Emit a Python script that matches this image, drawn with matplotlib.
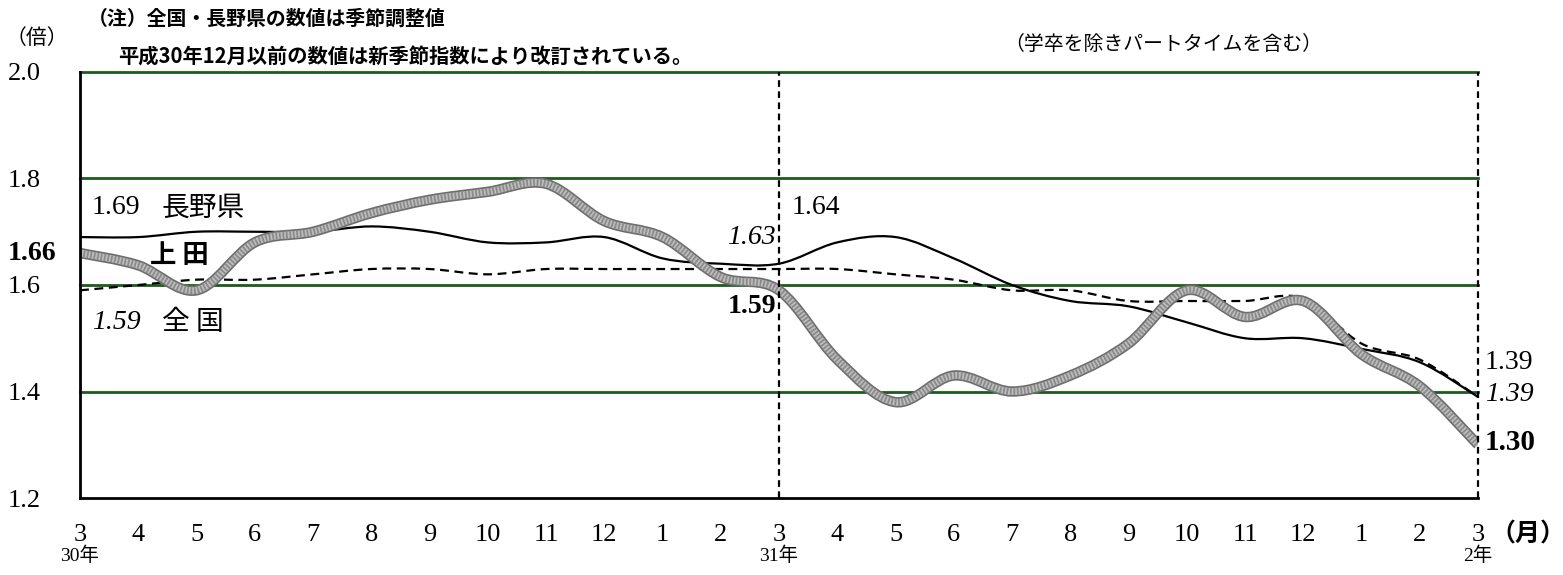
import matplotlib
matplotlib.use("Agg")
import matplotlib.pyplot as plt
import numpy as np
from matplotlib.path import Path
from matplotlib.patches import PathPatch

plt.rcParams['font.family'] = ['Liberation Serif', 'Noto Sans CJK JP']

months = ['3', '4', '5', '6', '7', '8', '9', '10', '11', '12', '1', '2',
          '3', '4', '5', '6', '7', '8', '9', '10', '11', '12', '1', '2', '3']
year_marks = {0: '30年', 12: '31年', 24: '2年'}

ueda = [1.66, 1.637, 1.59, 1.68, 1.70, 1.735, 1.76, 1.775, 1.79, 1.72, 1.69,
        1.615, 1.59, 1.46, 1.38, 1.43, 1.40, 1.43, 1.49, 1.59, 1.54, 1.57,
        1.47, 1.41, 1.30]
nagano = [1.69, 1.69, 1.70, 1.70, 1.70, 1.71, 1.70, 1.68, 1.68, 1.69, 1.65,
          1.64, 1.64, 1.68, 1.69, 1.65, 1.60, 1.57, 1.56, 1.53, 1.50, 1.50,
          1.48, 1.455, 1.39]
zenkoku = [1.59, 1.60, 1.61, 1.61, 1.62, 1.63, 1.63, 1.62, 1.63, 1.63, 1.63,
           1.63, 1.63, 1.63, 1.62, 1.61, 1.59, 1.59, 1.57, 1.57, 1.57, 1.575,
           1.49, 1.46, 1.39]


def smooth_path(xs, ys):
    # catmull-rom -> cubic bezier
    p = np.column_stack([xs, ys]).astype(float)
    p = np.vstack([p[0], p, p[-1]])
    verts = [p[1]]
    codes = [Path.MOVETO]
    for i in range(1, len(p) - 2):
        c1 = p[i] + (p[i + 1] - p[i - 1]) / 6
        c2 = p[i + 1] - (p[i + 2] - p[i]) / 6
        verts += [c1, c2, p[i + 1]]
        codes += [Path.CURVE4] * 3
    return Path(verts, codes)


fig = plt.figure(figsize=(15.63, 5.75), dpi=100)
ax = fig.add_axes([0.0512, 0.1339, 0.8944, 0.7409])
x = np.arange(len(months))
ax.set_xlim(0, 24)
ax.set_ylim(1.2, 2.0)

green = '#1e5a1e'
for yv in [1.4, 1.6, 1.8, 2.0]:
    ax.axhline(yv, color=green, lw=2, zorder=1, clip_on=False)
for xv in [12, 24]:
    ax.axvline(xv, color='black', lw=1.6, ls=(0, (3, 2)), zorder=5, clip_on=False)

ax.add_patch(PathPatch(smooth_path(x, zenkoku), fill=False, color='black',
                       lw=1.6, ls=(0, (4, 2.5)), zorder=3))
ax.add_patch(PathPatch(smooth_path(x, nagano), fill=False, color='black',
                       lw=1.6, zorder=3))
# textured thick line for Ueda
ax.add_patch(PathPatch(smooth_path(x, ueda), fill=False, color='#6e6e6e',
                       lw=7.5, zorder=4, capstyle='butt'))
ax.add_patch(PathPatch(smooth_path(x, ueda), fill=False, color='#bdbdbd',
                       lw=5, zorder=4, capstyle='butt'))
ax.add_patch(PathPatch(smooth_path(x, ueda), fill=False, color='#8a8a8a',
                       lw=5, ls=(0, (0.25, 0.25)), zorder=4, capstyle='butt'))

for s in ['top', 'right']:
    ax.spines[s].set_visible(False)
for s in ['left', 'bottom']:
    ax.spines[s].set_linewidth(2)
    ax.spines[s].set_zorder(6)

ax.set_yticks([1.2, 1.4, 1.6, 1.8, 2.0])
ax.set_yticklabels(['1.2', '1.4', '1.6', '1.8', '2.0'], fontsize=19)
ax.set_xticks(x)
ax.set_xticklabels(months, fontsize=19)
ax.tick_params(axis='y', length=0, pad=28)
ax.tick_params(axis='x', length=0, pad=19)

for i, lab in year_marks.items():
    ax.text(i, -0.135, lab, transform=ax.get_xaxis_transform(), ha='center',
            va='center', fontsize=14)
ax.text(1.036, -0.085, '（月）', transform=ax.transAxes, ha='center',
        va='center', fontsize=18, fontweight='bold',
        family=['Noto Sans CJK JP'])

# annotations
ax.text(-0.4, 1.66, '1.66', ha='right', va='center', fontsize=20,
        fontweight='bold', clip_on=False)
ax.text(0.2, 1.745, '1.69', ha='left', va='center', fontsize=20)
ax.text(1.4, 1.745, '長野県', ha='left', va='center', fontsize=20,
        family=['Noto Sans CJK JP'])
ax.text(1.2, 1.655, '上 田', ha='left', va='center', fontsize=19,
        fontweight='bold', family=['Noto Sans CJK JP'])
ax.text(0.2, 1.53, '1.59', ha='left', va='center', fontsize=20,
        style='italic')
ax.text(1.4, 1.53, '全 国', ha='left', va='center', fontsize=20,
        family=['Noto Sans CJK JP'])
ax.text(11.95, 1.69, '1.63', ha='right', va='center', fontsize=20,
        style='italic')
ax.text(12.22, 1.746, '1.64', ha='left', va='center', fontsize=20)
ax.text(11.95, 1.56, '1.59', ha='right', va='center', fontsize=20,
        fontweight='bold')
ax.text(24.12, 1.455, '1.39', ha='left', va='center', fontsize=20,
        clip_on=False)
ax.text(24.12, 1.395, '1.39', ha='left', va='center', fontsize=20,
        style='italic', clip_on=False)
ax.text(24.12, 1.305, '1.30', ha='left', va='center', fontsize=21,
        fontweight='bold', clip_on=False)

# header texts
jp = ['Noto Sans CJK JP']
fig.text(88 / 1563, 1 - 18 / 575, '（注）全国・長野県の数値は季節調整値', ha='left',
         va='center', fontsize=14.3, fontweight='bold', family=jp)
fig.text(118 / 1563, 1 - 57 / 575, '平成30年12月以前の数値は新季節指数により改訂されている。',
         ha='left', va='center', fontsize=14.6, fontweight='bold', family=jp)
fig.text(6 / 1563, 1 - 38 / 575, '（倍）', ha='left', va='center',
         fontsize=15, family=jp)
fig.text(1163 / 1563, 1 - 45 / 575, '（学卒を除きパートタイムを含む）',
         ha='center', va='center', fontsize=14.3, family=jp)

fig.savefig('out.png', dpi=100)
